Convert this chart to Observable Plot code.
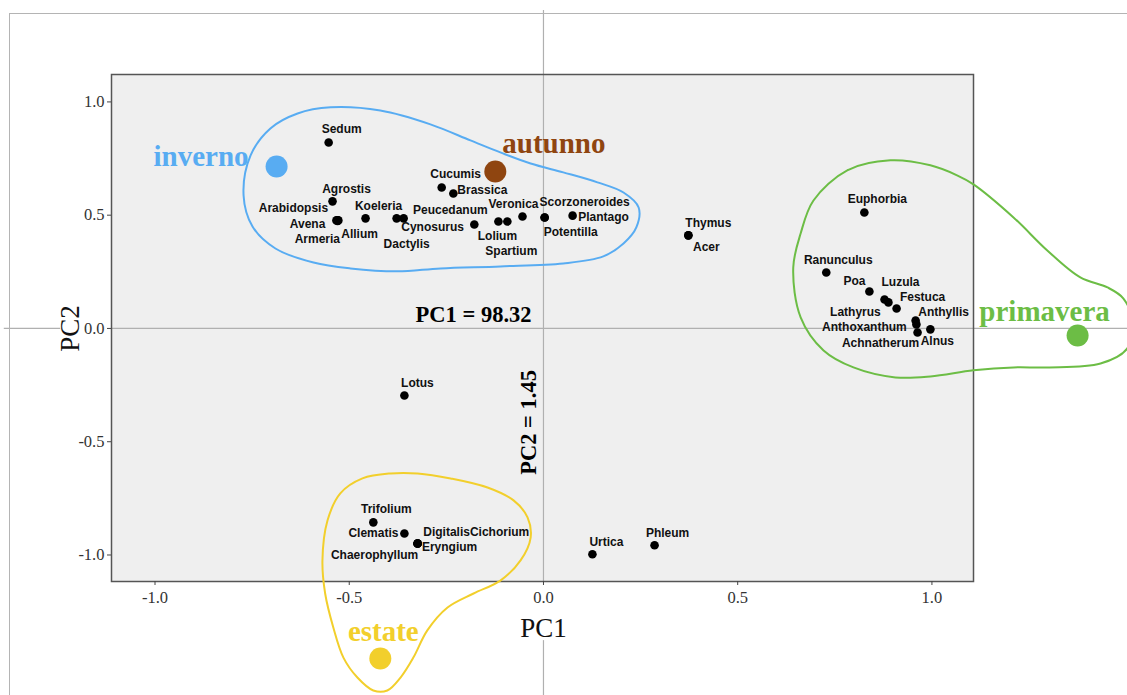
<!DOCTYPE html>
<html><head><meta charset="utf-8">
<script src="https://cdn.jsdelivr.net/npm/d3@7"></script>
<script src="https://cdn.jsdelivr.net/npm/@observablehq/plot@0.6"></script>
<style>
body{margin:0;background:#fff}
#wrap{position:relative;width:1127px;height:695px;overflow:hidden;background:#fff}
#chart{position:absolute;left:0;top:0}
#border{position:absolute;left:9px;top:13px;right:-5px;bottom:-5px;border-top:1.5px solid #b4b4b4;border-left:1.5px solid #b4b4b4;pointer-events:none}
</style></head><body>
<div id="wrap"><div id="chart"></div><div id="border"></div></div>
<script>
// ---- Data ----
const species = ["Sedum","Agrostis","Arabidopsis","Avena","Armeria","Allium","Koeleria","Dactylis","Cynosurus","Peucedanum","Cucumis","Brassica","Lolium","Spartium","Veronica","Scorzoneroides","Potentilla","Plantago","Thymus","Acer","Euphorbia","Ranunculus","Poa","Luzula","Lathyrus","Festuca","Anthyllis","Anthoxanthum","Achnatherum","Alnus","Lotus","Trifolium","Clematis","Digitalis","Cichorium","Eryngium","Chaerophyllum","Urtica","Phleum"];
const pc1 = [-0.553,-0.543,-0.533,-0.530,-0.528,-0.530,-0.458,-0.378,-0.360,-0.178,-0.262,-0.232,-0.116,-0.093,-0.054,0.003,0.003,0.075,0.373,0.373,0.826,0.728,0.839,0.878,0.888,0.909,0.958,0.960,0.963,0.996,-0.358,-0.438,-0.358,-0.324,-0.324,-0.324,-0.324,0.126,0.286];
const pc2 = [0.821,0.561,0.477,0.477,0.477,0.475,0.486,0.486,0.486,0.459,0.622,0.596,0.472,0.472,0.494,0.490,0.490,0.498,0.411,0.411,0.512,0.247,0.163,0.128,0.115,0.088,0.035,0.018,-0.018,-0.004,-0.296,-0.856,-0.905,-0.949,-0.949,-0.949,-0.949,-0.997,-0.957];

const seasons = ["inverno","autunno","primavera","estate"];
const seasonPC1 = [-0.687,-0.124,1.375,-0.420];
const seasonPC2 = [0.715,0.693,-0.031,-1.457];

// group outlines (PC1, PC2)
const hullInvernoX = [-0.548,-0.420,-0.291,-0.188,-0.111,-0.033,0.051,0.139,0.206,0.245,0.239,0.206,0.154,0.051,-0.111,-0.265,-0.376,-0.497,-0.592,-0.690,-0.749,-0.772,-0.754,-0.703,-0.633];
const hullInvernoY = [0.976,0.962,0.901,0.830,0.777,0.728,0.689,0.645,0.600,0.534,0.446,0.375,0.318,0.287,0.274,0.265,0.252,0.265,0.291,0.353,0.450,0.587,0.764,0.883,0.949];
const hullPrimaveraX = [0.695,0.782,0.893,0.996,1.066,1.107,1.210,1.297,1.382,1.452,1.493,1.516,1.503,1.434,1.297,1.210,1.107,0.996,0.906,0.798,0.721,0.662,0.643,0.662];
const hullPrimaveraY = [0.565,0.698,0.742,0.720,0.675,0.636,0.490,0.344,0.225,0.181,0.132,0.026,-0.088,-0.155,-0.172,-0.172,-0.185,-0.212,-0.216,-0.172,-0.097,0.049,0.269,0.419];
const hullEstateX = [-0.394,-0.324,-0.239,-0.144,-0.077,-0.041,-0.033,-0.059,-0.111,-0.180,-0.247,-0.299,-0.335,-0.368,-0.402,-0.438,-0.479,-0.515,-0.541,-0.562,-0.569,-0.556,-0.523,-0.466];
const hullEstateY = [-0.640,-0.640,-0.662,-0.702,-0.759,-0.834,-0.923,-1.024,-1.113,-1.170,-1.232,-1.333,-1.453,-1.541,-1.598,-1.598,-1.541,-1.453,-1.320,-1.170,-1.024,-0.848,-0.728,-0.662];

const xTicks = [-1.0,-0.5,0.0,0.5,1.0];
const yTicks = [-1.0,-0.5,0.0,0.5,1.0];
const variance = ["PC1 = 98.32","PC2 = 1.45"];

// ---- Styles / placement ----
const labelOffset = {
  Sedum:[13,-13],Agrostis:[14,-12],Arabidopsis:[-43,-12],Avena:[-30,4],Armeria:[-21,19],Allium:[22,13],
  Koeleria:[13,-12],Dactylis:[10,26],Cynosurus:[29,9],Peucedanum:[-24,-14],Cucumis:[14,-13],Brassica:[29,-3],
  Lolium:[-1,15],Spartium:[4,30],Veronica:[-9,-12],Scorzoneroides:[40,-15],Potentilla:[26,15],Plantago:[31,2],
  Thymus:[20,-12],Acer:[18,12],Euphorbia:[13,-13],Ranunculus:[12,-12],Poa:[-15,-10],Luzula:[16,-17],
  Lathyrus:[-33,10],Festuca:[26,-11],Anthyllis:[28,-8],Anthoxanthum:[-52,3],Achnatherum:[-37,11],Alnus:[7,12],
  Lotus:[13,-12],Trifolium:[13,-13],Clematis:[-31,0],Digitalis:[29,-11],Cichorium:[82,-11],Eryngium:[32,4],
  Chaerophyllum:[-43,12],Urtica:[14,-12],Phleum:[13,-12]
};
const seasonColor = {inverno:"#58acf2",autunno:"#8f4510",primavera:"#6cbd45",estate:"#f2cf2c"};
const seasonLabel = {inverno:{dx:-28,dy:-10,anchor:"end"},autunno:{dx:7,dy:-28,anchor:"start"},primavera:{dx:-33,dy:-24,anchor:"middle"},estate:{dx:3,dy:-27,anchor:"middle"}};

const pts = species.map((s,i)=>({name:s,pc1:pc1[i],pc2:pc2[i]}));
const seas = seasons.map((s,i)=>({name:s,pc1:seasonPC1[i],pc2:seasonPC2[i]}));
const hull = (xs,ys)=>xs.map((x,i)=>({pc1:x,pc2:ys[i]}));
const hulls = [
  {name:"inverno",pts:hull(hullInvernoX,hullInvernoY)},
  {name:"primavera",pts:hull(hullPrimaveraX,hullPrimaveraY)},
  {name:"estate",pts:hull(hullEstateX,hullEstateY)}
];

const serif = "Liberation Serif, Times New Roman, serif";
const sans = "Liberation Sans, Arial, Helvetica, sans-serif";
const fmt = d => d.toFixed(1);

const marks = [
  // crosshair through origin
  Plot.ruleX([0],{y1:1.404,y2:0,stroke:"#b0b0b0",strokeWidth:1.2}),
  Plot.ruleX([0],{y1:0,y2:-1.117,stroke:"#b0b0b0",strokeWidth:1.2}),
  Plot.ruleX([0],{y1:-1.378,y2:-1.65,stroke:"#b0b0b0",strokeWidth:1.2}),
  Plot.ruleY([0],{x1:-1.388,x2:-1.243,stroke:"#b0b0b0",strokeWidth:1.2}),
  Plot.frame({fill:"#efefef",stroke:null}),
  Plot.ruleX([0],{y1:-1.117,y2:1.121,stroke:"#b0b0b0",strokeWidth:1.2}),
  Plot.ruleY([0],{x1:-1.112,x2:1.55,stroke:"#b0b0b0",strokeWidth:1.2}),
  Plot.frame({stroke:"#555",strokeWidth:1.5}),
  Plot.axisX(xTicks,{anchor:"bottom",tickSize:4,tickPadding:6,tickFormat:fmt,fontSize:16.5,fontFamily:serif,fill:"#333",stroke:"#444",label:null}),
  Plot.axisY(yTicks,{anchor:"left",tickSize:4,tickPadding:3,tickFormat:fmt,fontSize:16.5,fontFamily:serif,fill:"#333",stroke:"#444",label:null}),
  Plot.text(["PC1"],{x:0,y:-1.325,text:d=>d,fontSize:27,fontFamily:serif,fill:"#111"}),
  Plot.text(["PC2"],{x:-1.218,y:0,text:d=>d,rotate:-90,fontSize:27,fontFamily:serif,fill:"#111"}),
  Plot.text([variance[0]],{x:-0.180,y:0.062,text:d=>d,fontSize:22.5,fontWeight:"bold",fontFamily:serif,fill:"#000"}),
  Plot.text([variance[1]],{x:-0.039,y:-0.415,text:d=>d,rotate:-90,fontSize:22.5,fontWeight:"bold",fontFamily:serif,fill:"#000"}),
  Plot.dot(pts,{x:"pc1",y:"pc2",r:4.3,fill:"#000"}),
  ...pts.map(p=>Plot.text([p],{x:"pc1",y:"pc2",text:"name",dx:labelOffset[p.name][0],dy:labelOffset[p.name][1],fontSize:12,fontWeight:"bold",fontFamily:sans,fill:"#111"})),
  ...hulls.map(h=>Plot.line(h.pts,{x:"pc1",y:"pc2",curve:"catmull-rom-closed",stroke:seasonColor[h.name],strokeWidth:2})),
  Plot.dot(seas,{x:"pc1",y:"pc2",r:11,fill:d=>seasonColor[d.name]}),
  ...seas.map(s=>Plot.text([s],{x:"pc1",y:"pc2",text:"name",dx:seasonLabel[s.name].dx,dy:seasonLabel[s.name].dy,textAnchor:seasonLabel[s.name].anchor,fontSize:29,fontWeight:"bold",fontFamily:serif,fill:seasonColor[s.name]}))
];

const chart = Plot.plot({
  width:1127, height:695,
  marginLeft:111, marginRight:154, marginTop:74, marginBottom:114,
  x:{domain:[-1.112,1.107]},
  y:{domain:[-1.117,1.121]},
  style:{background:"transparent",overflow:"visible"},
  marks
});
document.getElementById("chart").appendChild(chart);
</script>
</body></html>
